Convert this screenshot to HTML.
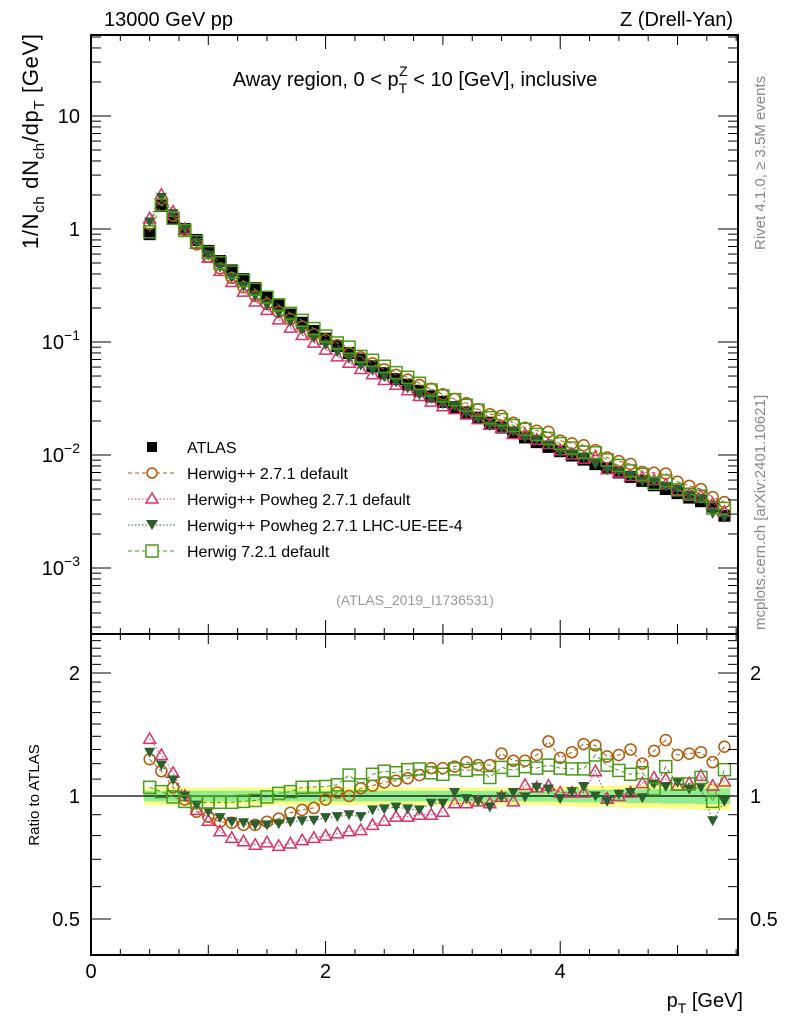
<!DOCTYPE html>
<html><head><meta charset="utf-8"><style>
body{margin:0;background:#fff;}
svg{display:block;font-family:"Liberation Sans",sans-serif;}
</style></head><body>
<svg id="c" width="786" height="1024" viewBox="0 0 786 1024"></svg>
<script>
const xs=[0.5,0.6,0.7,0.8,0.9,1.0,1.1,1.2,1.3,1.4,1.5,1.6,1.7,1.8,1.9,2.0,2.1,2.2,2.3,2.4,2.5,2.6,2.7,2.8,2.9,3.0,3.1,3.2,3.3,3.4,3.5,3.6,3.7,3.8,3.9,4.0,4.1,4.2,4.3,4.4,4.5,4.6,4.7,4.8,4.9,5.0,5.1,5.2,5.3,5.4];
const atlas=[0.9,1.6,1.25,1.0,0.8,0.64,0.52,0.43,0.36,0.30,0.25,0.21,0.175,0.148,0.125,0.107,0.092,0.080,0.070,0.061,0.053,0.047,0.042,0.037,0.033,0.0295,0.0265,0.0238,0.0214,0.0193,0.0175,0.0158,0.0143,0.0130,0.0118,0.0108,0.0099,0.0091,0.0083,0.0076,0.0070,0.0064,0.0059,0.0054,0.0050,0.0046,0.0042,0.0039,0.0035,0.0029];
const rCirc=[1.23,1.15,1.05,0.98,0.915,0.89,0.865,0.86,0.85,0.85,0.865,0.88,0.91,0.925,0.935,0.98,1.02,1.0,1.045,1.06,1.08,1.09,1.105,1.125,1.17,1.17,1.18,1.21,1.19,1.19,1.27,1.22,1.22,1.26,1.36,1.24,1.28,1.34,1.33,1.25,1.26,1.30,1.20,1.29,1.37,1.26,1.27,1.28,1.21,1.32];
const rTri=[1.38,1.26,1.14,1.0,0.925,0.87,0.82,0.79,0.775,0.76,0.77,0.755,0.765,0.78,0.79,0.80,0.81,0.82,0.825,0.85,0.87,0.89,0.89,0.9,0.9,0.915,0.96,0.96,0.97,0.96,0.995,0.97,1.065,1.05,1.06,1.02,1.02,1.02,1.15,0.985,1.0,1.02,1.075,1.11,1.1,1.06,1.075,1.12,1.06,1.085];
const rDown=[1.28,1.19,1.095,1.0,0.95,0.915,0.885,0.865,0.86,0.85,0.85,0.855,0.865,0.87,0.872,0.885,0.89,0.9,0.89,0.925,0.93,0.94,0.93,0.925,0.96,0.96,1.02,0.985,0.97,0.94,0.995,1.02,0.995,1.05,1.04,0.985,1.025,1.055,1.0,0.97,1.01,1.02,0.99,1.07,1.055,1.08,1.04,1.05,0.87,0.97];
const rSq=[1.05,1.025,0.995,0.97,0.965,0.965,0.965,0.965,0.97,0.975,0.995,1.015,1.025,1.05,1.052,1.055,1.065,1.125,1.065,1.13,1.15,1.14,1.16,1.165,1.14,1.13,1.165,1.155,1.165,1.11,1.175,1.155,1.18,1.17,1.19,1.17,1.165,1.165,1.26,1.19,1.155,1.13,1.14,1.04,1.18,1.07,1.07,1.11,0.97,1.16];
const bandY=[0.05,0.05,0.05,0.05,0.05,0.05,0.05,0.05,0.05,0.05,0.05,0.05,0.05,0.05,0.05,0.05,0.05,0.05,0.05,0.05,0.05,0.05,0.05,0.05,0.05,0.05,0.05,0.05,0.05,0.05,0.05,0.05,0.05,0.05,0.05,0.055,0.055,0.06,0.06,0.06,0.06,0.065,0.065,0.065,0.07,0.07,0.07,0.075,0.075,0.075];
const xTicks=[0,2,4];
const yExps=[1,0,-1,-2,-3];
const rTicks=[0.5,1,2];

const svg=document.getElementById('c');
const NS='http://www.w3.org/2000/svg';
const L=91,R=738,T=35,MB=634,RB=955;
const X=v=>L+v*117.3;
const Y=v=>229-113*Math.log10(v);
const YR=v=>796-123*Math.log2(v);
function el(t,a,p){const e=document.createElementNS(NS,t);for(const k in a)e.setAttribute(k,a[k]);(p||svg).appendChild(e);return e;}
function txt(s,a,p){const e=el('text',a,p);e.innerHTML=s;return e;}

let g=el('g',{});


let yl='',gl='',yl2='',gl2='';
xs.forEach((x,i)=>{const a=X(x-0.05),b=X(x+0.05);yl+=`${a},${YR(1+bandY[i])} ${b},${YR(1+bandY[i])} `;yl2=`${b},${YR(1-bandY[i])} ${a},${YR(1-bandY[i])} `+yl2;gl+=`${a},${YR(1+bandY[i]*0.6)} ${b},${YR(1+bandY[i]*0.6)} `;gl2=`${b},${YR(1-bandY[i]*0.6)} ${a},${YR(1-bandY[i]*0.6)} `+gl2;});
el('polygon',{points:yl+yl2,fill:'#ffff88'},g);
el('polygon',{points:gl+gl2,fill:'#90ee90'},g);
el('line',{x1:L,x2:R,y1:YR(1),y2:YR(1),stroke:'#000','stroke-width':1.3});

const series=[
 {name:'herwig-2-7-1-default',r:rCirc,c:'#b35806',dash:'4,3',m:'circ'},
 {name:'herwig-powheg-default',r:rTri,c:'#d6336c',dash:'1.5,2',m:'tri'},
 {name:'herwig-powheg-lhc-ue-ee-4',r:rDown,c:'#2d5e2d',dash:'1.5,2',m:'down'},
 {name:'herwig-7-2-1-default',r:rSq,c:'#4a9a1a',dash:'4,3',m:'sq'}];
function marker(m,x,y,c,p,s){
 s=s||1;
 if(m==='circ')return el('circle',{cx:x,cy:y,r:5.5*s,fill:'none',stroke:c,'stroke-width':1.5},p);
 if(m==='tri')return el('polygon',{points:`${x},${y-6*s} ${x-6*s},${y+4.5*s} ${x+6*s},${y+4.5*s}`,fill:'none',stroke:c,'stroke-width':1.5},p);
 if(m==='down')return el('polygon',{points:`${x-5.5*s},${y-4.5*s} ${x+5.5*s},${y-4.5*s} ${x},${y+5.5*s}`,fill:c},p);
 if(m==='sq')return el('rect',{x:x-6*s,y:y-6*s,width:12*s,height:12*s,fill:'none',stroke:c,'stroke-width':1.5},p);
}
let ga=el('g',{});


xs.forEach((x,i)=>{el('rect',{x:X(x)-6,y:Y(atlas[i])-6,width:12,height:12,fill:'#000'},ga);});
series.forEach(s=>{
 const gm=el('g',{});
 
 
 el('polyline',{points:xs.map((x,i)=>`${X(x)},${Y(atlas[i]*s.r[i])}`).join(' '),fill:'none',stroke:s.c,'stroke-dasharray':s.dash,'stroke-width':1},gm);
 xs.forEach((x,i)=>marker(s.m,X(x),Y(atlas[i]*s.r[i]),s.c,gm));
 const gr=el('g',{});
 
 
 el('polyline',{points:xs.map((x,i)=>`${X(x)},${YR(s.r[i])}`).join(' '),fill:'none',stroke:s.c,'stroke-dasharray':s.dash,'stroke-width':1},gr);
 xs.forEach((x,i)=>marker(s.m,X(x),YR(s.r[i]),s.c,gr));
});

el('rect',{x:L,y:T,width:R-L,height:MB-T,fill:'none',stroke:'#000','stroke-width':2});
el('rect',{x:L,y:MB,width:R-L,height:RB-MB,fill:'none',stroke:'#000','stroke-width':2});
for(let v=0;v<=5.5;v+=0.25){const maj=Math.abs(v-Math.round(v/2)*2)<1e-6, mid=Math.abs(v-Math.round(v))<1e-6;const len=maj?14:(mid?10:6);
 [T,MB].forEach(y0=>el('line',{x1:X(v),x2:X(v),y1:y0,y2:y0+len,stroke:'#000','stroke-width':1}));
 [MB,RB].forEach(y0=>el('line',{x1:X(v),x2:X(v),y1:y0,y2:y0-len,stroke:'#000','stroke-width':1}));}
xTicks.forEach(v=>{const t=txt(String(v),{x:X(v),y:978,'font-size':20,'text-anchor':'middle'});
 
 });
for(let e=-4;e<=1;e++)for(let k=1;k<10;k++){const v=k*Math.pow(10,e);const y=Y(v);if(y<T||y>MB)continue;const len=k===1?20:10;
 el('line',{x1:L,x2:L+len,y1:y,y2:y,stroke:'#000'});el('line',{x1:R,x2:R-len,y1:y,y2:y,stroke:'#000'});}
yExps.forEach(e=>{const s=e===1?'10':e===0?'1':`10<tspan dy="-9" font-size="14">${e===-1?'−1':e===-2?'−2':'−3'}</tspan>`;
 const t=txt(s,{x:80,y:Y(Math.pow(10,e))+7,'font-size':20,'text-anchor':'end'});
 
 });
[0.5,0.6,0.7,0.8,0.9,1,1.1,1.2,1.3,1.4,1.5,1.6,1.7,1.8,1.9,2,2.1,2.2,2.3,2.4].forEach(v=>{const y=YR(v);const len=(v===0.5||v===1||v===2)?20:10;
 el('line',{x1:L,x2:L+len,y1:y,y2:y,stroke:'#000'});el('line',{x1:R,x2:R-len,y1:y,y2:y,stroke:'#000'});});
rTicks.forEach(v=>{[[80,'end'],[750,'start']].forEach(([x,a])=>{const t=txt(String(v),{x:x,y:YR(v)+7,'font-size':20,'text-anchor':a});
 
 });});
</script>
<svg style="position:absolute;left:0;top:0" width="786" height="1024">
<text x="104" y="26" font-size="20">13000 GeV pp</text>
<text x="733" y="26" font-size="20" text-anchor="end">Z (Drell-Yan)</text>
<text x="415" y="86" font-size="20" text-anchor="middle">Away region, 0 &lt; p<tspan dy="7" font-size="14">T</tspan><tspan dy="-17" dx="-8" font-size="14">Z</tspan><tspan dy="10"> &lt; 10 [GeV], inclusive</tspan></text>
<text transform="translate(38,249) rotate(-90)" font-size="22" text-anchor="start" textLength="215" lengthAdjust="spacing">1/N<tspan dy="6" font-size="15">ch</tspan><tspan dy="-6"> dN</tspan><tspan dy="6" font-size="15">ch</tspan><tspan dy="-6">/dp</tspan><tspan dy="6" font-size="15">T</tspan><tspan dy="-6"> [GeV]</tspan></text>
<text transform="translate(39,795) rotate(-90)" font-size="15" text-anchor="middle">Ratio to ATLAS</text>
<text x="743" y="1007" font-size="20" text-anchor="end">p<tspan dy="6" font-size="14">T</tspan><tspan dy="-6"> [GeV]</tspan></text>
<text transform="translate(765,250) rotate(-90)" font-size="15" fill="#888">Rivet 4.1.0, ≥ 3.5M events</text>
<text transform="translate(765,630) rotate(-90)" font-size="15" fill="#888">mcplots.cern.ch [arXiv:2401.10621]</text>
<text x="415" y="605" font-size="14" fill="#999" text-anchor="middle">(ATLAS_2019_I1736531)</text>
<g font-size="16">
 <g><rect x="147" y="442" width="10" height="10" fill="#000"/><text x="187" y="453">ATLAS</text></g>
 <g><line x1="128" x2="176" y1="473" y2="473" stroke="#b35806" stroke-dasharray="4,3"/><circle cx="152" cy="473" r="5" fill="#fff" stroke="#b35806" stroke-width="1.5"/><text x="187" y="479">Herwig++ 2.7.1 default</text></g>
 <g><line x1="128" x2="176" y1="499" y2="499" stroke="#d6336c" stroke-dasharray="1.5,2"/><polygon points="152,493 146,503 158,503" fill="#fff" stroke="#d6336c" stroke-width="1.5"/><text x="187" y="505">Herwig++ Powheg 2.7.1 default</text></g>
 <g><line x1="128" x2="176" y1="525" y2="525" stroke="#2d5e2d" stroke-dasharray="1.5,2"/><polygon points="146,520 158,520 152,530" fill="#2d5e2d"/><text x="187" y="531">Herwig++ Powheg 2.7.1 LHC-UE-EE-4</text></g>
 <g><line x1="128" x2="176" y1="551" y2="551" stroke="#4a9a1a" stroke-dasharray="4,3"/><rect x="146" y="545" width="12" height="12" fill="#fff" stroke="#4a9a1a" stroke-width="1.5"/><text x="187" y="557">Herwig 7.2.1 default</text></g>
</g>
</svg>
</body></html>
